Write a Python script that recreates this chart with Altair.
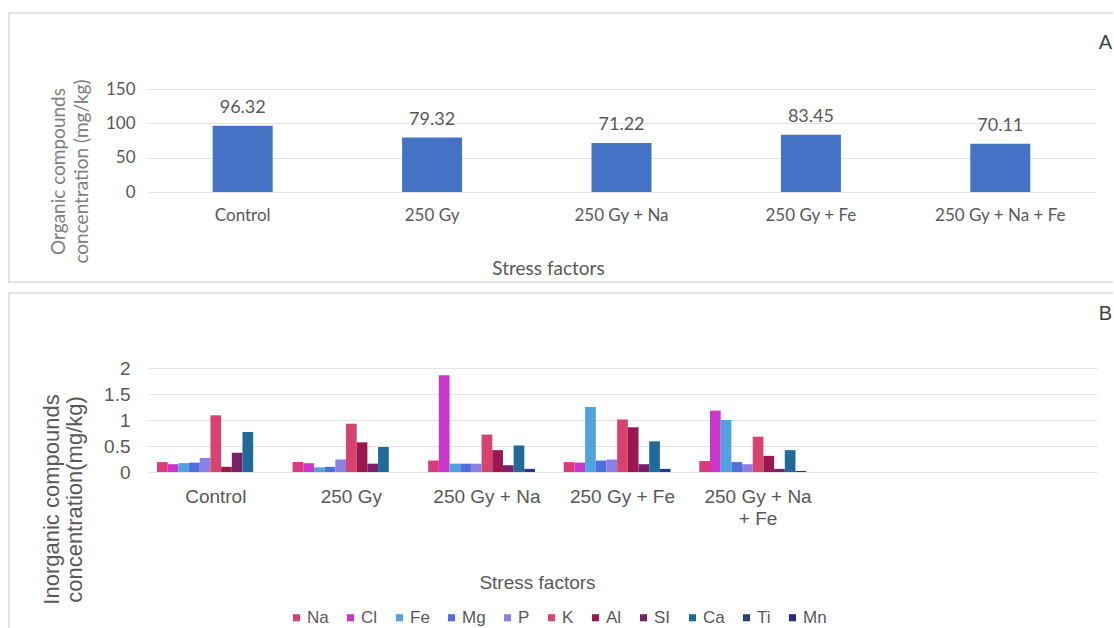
import altair as alt
import pandas as pd

# ---- Panel A: organic compounds ----
treatments = ["Control", "250 Gy", "250 Gy + Na", "250 Gy + Fe", "250 Gy + Na + Fe"]
organic = [96.32, 79.32, 71.22, 83.45, 70.11]

# ---- Panel B: inorganic compounds per element ----
elements = ["Na", "Cl", "Fe", "Mg", "P", "K", "Al", "SI", "Ca", "Ti", "Mn"]
control_vals = [0.19, 0.15, 0.17, 0.18, 0.27, 1.09, 0.10, 0.37, 0.77, 0.00, 0.00]
gy250_vals = [0.19, 0.17, 0.09, 0.10, 0.24, 0.93, 0.57, 0.16, 0.48, 0.00, 0.00]
gy250_na_vals = [0.22, 1.86, 0.16, 0.16, 0.16, 0.72, 0.42, 0.13, 0.51, 0.06, 0.00]
gy250_fe_vals = [0.19, 0.18, 1.25, 0.22, 0.24, 1.01, 0.86, 0.15, 0.59, 0.06, 0.00]
gy250_na_fe_vals = [0.21, 1.18, 1.00, 0.19, 0.15, 0.68, 0.31, 0.06, 0.42, 0.02, 0.00]
element_colors = ["#DC3A7E", "#CC36C8", "#4FA3DE", "#4E6FDC", "#8C80E4", "#D8426E",
                  "#9C1750", "#7A2068", "#1F6A98", "#223F80", "#2E2A86"]
spare_slots = ["", " "]

df_a = pd.DataFrame({"treatment": treatments, "value": organic})
rows = []
for t, vals in zip(treatments, [control_vals, gy250_vals, gy250_na_vals,
                                gy250_fe_vals, gy250_na_fe_vals]):
    for e, v in zip(elements, vals):
        rows.append({"treatment": t, "element": e, "value": v})
df_b = pd.DataFrame(rows)
one_row = pd.DataFrame({"k": [0]})

GRID = "#E4E4E4"
FRAME = "#D9D9D9"
TXT = "#595959"
FONT_A = "Lato"
FONT_B = "Liberation Sans"

W_A, H_A = 947, 103
W_B, H_B = 949, 104


def frame_layers(rel_top, rel_bottom, bottom_edge, letter, letter_y):
    base = alt.Chart(one_row)
    # invisible box that fixes the panel's outer extent
    box = base.mark_rect(opacity=0).encode(
        x=alt.value(-140), x2=alt.value(965),
        y=alt.value(rel_top), y2=alt.value(rel_bottom))
    left = base.mark_rule(color=FRAME, strokeWidth=1.5).encode(
        x=alt.value(-139), y=alt.value(rel_top), y2=alt.value(rel_bottom))
    top = base.mark_rule(color=FRAME, strokeWidth=1.5).encode(
        x=alt.value(-139), x2=alt.value(965), y=alt.value(rel_top + 1))
    layers = [box, left, top]
    if bottom_edge:
        layers.append(base.mark_rule(color=FRAME, strokeWidth=1.5).encode(
            x=alt.value(-139), x2=alt.value(965), y=alt.value(rel_bottom - 1)))
    layers.append(base.mark_text(text=letter, align="right", baseline="middle",
                                 fontSize=20, font=FONT_B, color="#404040").encode(
        x=alt.value(964), y=alt.value(letter_y)))
    return layers


# Panel A
x_a = alt.X("treatment:N", sort=treatments,
            scale=alt.Scale(paddingInner=0.2, paddingOuter=0.1),
            axis=alt.Axis(title="Stress factors", labelAngle=0, ticks=False, domain=False,
                          labelPadding=15, labelFont=FONT_A, labelFontSize=17, labelColor=TXT,
                          titleFont=FONT_A, titleFontSize=19, titleColor=TXT,
                          titleFontWeight="normal", titleX=400, titleY=76,
                          titleBaseline="middle"))
y_a = alt.Y("value:Q", scale=alt.Scale(domain=[0, 150], nice=False, zero=True),
            axis=alt.Axis(values=[0, 50, 100, 150], title=["Organic compounds",
                                                          "concentration (mg/kg)"],
                          labelOverlap=False, ticks=False, domain=False, gridColor=GRID,
                          labelPadding=13, labelFont=FONT_A, labelFontSize=17, labelColor=TXT,
                          titleFont=FONT_A, titleFontSize=19, titleColor="#808080",
                          titleFontWeight="normal", titleX=-80, titleY=82,
                          titleLineHeight=23))
bars_a = alt.Chart(df_a).mark_bar(color="#4472C4", size=60).encode(x=x_a, y=y_a)
labels_a = alt.Chart(df_a).mark_text(baseline="bottom", dy=-9, font=FONT_A, fontSize=18,
                                     color=TXT).encode(
    x=x_a, y=y_a, text=alt.Text("value:Q", format=".2f"))
panel_a = alt.layer(*frame_layers(-77, 194, True, "A", -46), bars_a, labels_a).properties(
    width=W_A, height=H_A)

# Panel B
x_b = alt.X("treatment:N",
            scale=alt.Scale(domain=treatments + spare_slots, paddingInner=0.133,
                            paddingOuter=0.0665),
            axis=alt.Axis(title="Stress factors", labelAngle=0, ticks=False, domain=False,
                          labelPadding=15, labelFont=FONT_B, labelFontSize=19, labelColor=TXT,
                          labelExpr="datum.label == '250 Gy + Na + Fe' ? ['250 Gy + Na', '+ Fe'] : datum.label",
                          labelLineHeight=22,
                          titleFont=FONT_B, titleFontSize=19, titleColor=TXT,
                          titleFontWeight="normal", titleX=389, titleY=110,
                          titleBaseline="middle"))
y_b = alt.Y("value:Q", scale=alt.Scale(domain=[0, 2], nice=False),
            axis=alt.Axis(values=[0, 0.5, 1, 1.5, 2], format="~g",
                          title=["Inorganic compounds", "concentration(mg/kg)"],
                          labelOverlap=False, ticks=False, domain=False, gridColor=GRID,
                          labelPadding=18, labelFont=FONT_B, labelFontSize=19, labelColor=TXT,
                          titleFont=FONT_B, titleFontSize=22, titleColor=TXT,
                          titleFontWeight="normal", titleX=-85, titleY=131,
                          titleLineHeight=23))
bars_b = alt.Chart(df_b).mark_bar().encode(
    x=x_b, y=y_b,
    xOffset=alt.XOffset("element:N", sort=elements),
    color=alt.Color("element:N", sort=elements,
                    scale=alt.Scale(domain=elements, range=element_colors),
                    legend=alt.Legend(title=None, orient="none", direction="horizontal",
                                      legendX=140, legendY=241, symbolType="square",
                                      symbolSize=50, symbolStrokeWidth=0, labelOffset=2,
                                      columnPadding=13, labelFont=FONT_B, labelFontSize=17,
                                      labelColor=TXT)))
panel_b = alt.layer(*frame_layers(-76, 261, False, "B", -54), bars_b).properties(
    width=W_B, height=H_B)

chart = alt.vconcat(panel_a, panel_b, spacing=7).resolve_scale(
    color="independent").resolve_legend(color="independent").properties(
    padding={"left": 8, "top": 11, "right": 0, "bottom": 0},
    background="white").configure_view(stroke=None)

chart.save("out.html", embed_options={"renderer": "svg", "actions": False})
